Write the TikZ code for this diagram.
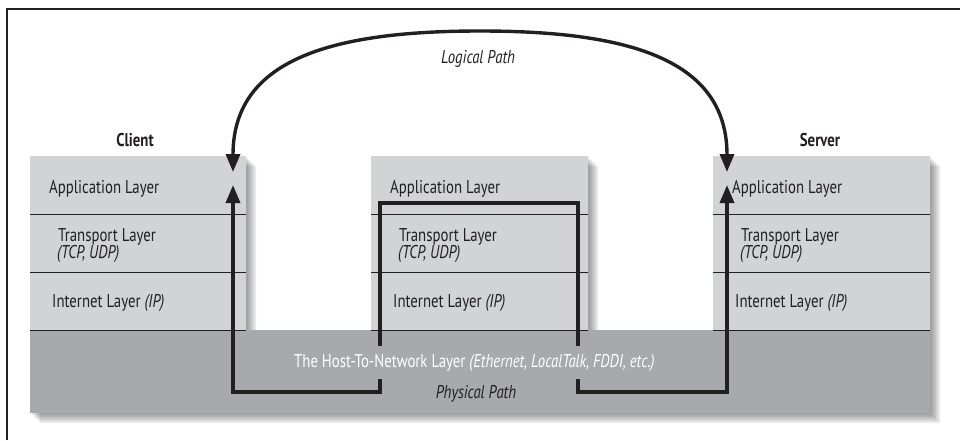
\documentclass[tikz,border=0pt]{standalone}
\usepackage{fontspec}
\setmainfont[FakeStretch=0.8]{PT Sans}
\usetikzlibrary{arrows.meta}
\definecolor{colfill}{HTML}{D1D3D4}
\definecolor{basefill}{HTML}{A7A9AC}
\definecolor{ink}{HTML}{231F20}
\newcommand{\lfont}{\fontsize{18.5}{16}\selectfont}
\tikzset{
  lbl/.style={anchor=base west, inner sep=0pt, text=ink, font=\lfont},
  ttl/.style={anchor=base, inner sep=0pt, text=ink, font=\lfont\bfseries},
  pathlbl/.style={anchor=base, inner sep=0pt, text=ink, font=\lfont\itshape},
  divider/.style={draw=ink, line width=1pt},
  route/.style={draw=ink, line width=3.4pt, miter limit=10},
  tip/.style={-{Triangle[width=14pt,length=18pt]}},
}
\begin{document}
\begin{tikzpicture}[x=1pt,y=-1pt]
\useasboundingbox (0,0) rectangle (960,440);
% frame
\draw[ink, line width=1.5pt] (7,440) -- (7,9) -- (960,9);
% shadows
\foreach \k in {2,4,6,8,10}{
  \fill[black, opacity=0.085, shift={(\k,\k)}]
    (30,156) rectangle (246,330)
    (371,156) rectangle (588,330)
    (713,156) rectangle (930,330)
    (30,330) rectangle (930,413);
}
% columns
\fill[colfill] (30,156) rectangle (246,330);
\fill[colfill] (371,156) rectangle (588,330);
\fill[colfill] (713,156) rectangle (930,330);
\fill[basefill] (30,330) rectangle (930,413);
% dividers
\foreach \a/\b in {30/246, 371/588, 713/930}{
  \draw[divider] (\a,214) -- (\b,214);
  \draw[divider] (\a,272) -- (\b,272);
  \draw[divider] (\a,330) -- (\b,330);
}
% texts
\node[ttl] (client) at (135,146) {Client};
\node[ttl] (server) at (820,146) {Server};
\foreach \n/\x in {L/0, M/341, R/683}{
  \node[lbl] (app\n) at (49+\x,193) {Application Layer};
  \node[lbl] (tra\n) at (58+\x,241) {Transport Layer};
  \node[lbl, font=\lfont\itshape] (tcp\n) at (57+\x,258) {(TCP, UDP)};
  \node[lbl] (int\n) at (52+\x,307) {Internet Layer \textit{(IP)}};
}
% coordinates of routes
\coordinate (cTip) at (233,172);
\coordinate (sTip) at (727,172);
\coordinate (top) at (480,31);
\coordinate (cUp) at (233,185);
\coordinate (c0) at (233,392);
\coordinate (m1) at (380,392);
\coordinate (m2) at (380,203);
\coordinate (m3) at (578,203);
\coordinate (m4) at (578,392);
\coordinate (s0) at (727,392);
\coordinate (sUp) at (727,185);
% physical path
\draw[route, {Triangle[width=14pt,length=18pt]}-{Triangle[width=14pt,length=18pt]}]
  (cUp) -- (c0) -- (m1) -- (m2) -- (m3) -- (m4) -- (s0) -- (sUp);
% host-to-network label covering route
\node[anchor=base west, fill=basefill, inner xsep=1pt, inner ysep=0pt, text height=21pt, text depth=12pt, text=white, font=\lfont] (host) at (293,367)
  {The Host-To-Network Layer \textit{(Ethernet, LocalTalk, FDDI, etc.)}};
\node[pathlbl] (phys) at (476,398) {Physical Path};
% logical path
\draw[route, tip] (top) .. controls (330,31) and (233,60) .. (cTip);
\draw[route, tip] (top) .. controls (630,31) and (727,60) .. (sTip);
\node[pathlbl] (logical) at (478,63) {Logical Path};
\end{tikzpicture}
\end{document}
